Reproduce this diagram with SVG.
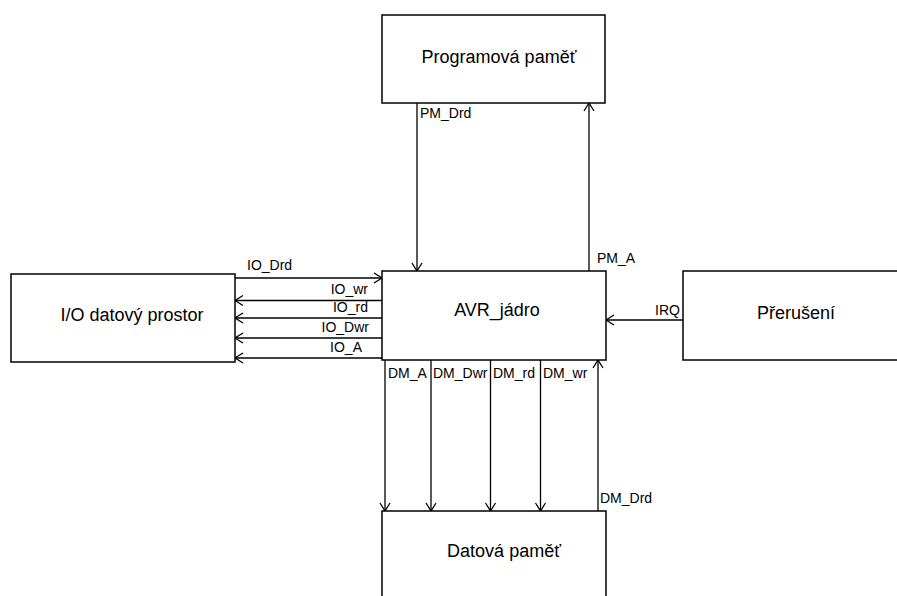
<svg xmlns="http://www.w3.org/2000/svg" width="897" height="596" viewBox="0 0 897 596">
<style>
.box{fill:#fff;stroke:#000;stroke-width:1.5}
.main{font-family:"Liberation Sans",Arial,sans-serif;font-size:18px;fill:#000;text-anchor:middle}
.lbl{font-family:"Liberation Sans",Arial,sans-serif;font-size:14px;fill:#000}
.r{text-anchor:end}
.ln{stroke:#000;stroke-width:1.3;fill:none;marker-end:url(#arr)}
</style>
<defs>
<marker id="arr" markerUnits="userSpaceOnUse" markerWidth="20" markerHeight="20" viewBox="-10 -10 20 20" refX="0" refY="0" orient="auto">
<path d="M-8,-5 L0,0 L-8,5" fill="none" stroke="#000" stroke-width="1.3"/>
</marker>
</defs>
<rect width="897" height="596" fill="#fff"/>
<g id="connectors">
<line class="ln" x1="417" y1="103" x2="417" y2="271"/>
<line class="ln" x1="589" y1="271" x2="589" y2="103"/>
<line class="ln" x1="235" y1="278" x2="382" y2="278"/>
<line class="ln" x1="382" y1="300.5" x2="235" y2="300.5"/>
<line class="ln" x1="382" y1="318" x2="235" y2="318"/>
<line class="ln" x1="382" y1="338" x2="235" y2="338"/>
<line class="ln" x1="382" y1="358" x2="235" y2="358"/>
<line class="ln" x1="683" y1="320" x2="606" y2="320"/>
<line class="ln" x1="385" y1="360" x2="385" y2="511"/>
<line class="ln" x1="431" y1="360" x2="431" y2="511"/>
<line class="ln" x1="490.5" y1="360" x2="490.5" y2="511"/>
<line class="ln" x1="540.5" y1="360" x2="540.5" y2="511"/>
<line class="ln" x1="598" y1="511" x2="598" y2="360"/>
<text class="lbl" x="420" y="118">PM_Drd</text>
<text class="lbl" x="597" y="263">PM_A</text>
<text class="lbl" x="247" y="270">IO_Drd</text>
<text class="lbl r" x="368" y="294">IO_wr</text>
<text class="lbl r" x="368" y="312">IO_rd</text>
<text class="lbl r" x="369" y="332">IO_Dwr</text>
<text class="lbl r" x="362" y="352">IO_A</text>
<text class="lbl r" x="680" y="315">IRQ</text>
<text class="lbl" x="388" y="378">DM_A</text>
<text class="lbl" x="433" y="378">DM_Dwr</text>
<text class="lbl" x="493" y="378">DM_rd</text>
<text class="lbl" x="543" y="378">DM_wr</text>
<text class="lbl" x="600" y="503">DM_Drd</text>
</g>
<g id="programova-pamet">
<rect class="box" x="382" y="15" width="223" height="88"/>
<text class="main" x="499" y="63">Programová paměť</text>
</g>
<g id="avr-jadro">
<rect class="box" x="382" y="271" width="224" height="89"/>
<text class="main" x="497" y="316">AVR_jádro</text>
</g>
<g id="io-prostor">
<rect class="box" x="11" y="274" width="224" height="88"/>
<text class="main" x="132" y="321">I/O datový prostor</text>
</g>
<g id="preruseni">
<rect class="box" x="683" y="271" width="224" height="89"/>
<text class="main" x="796" y="319">Přerušení</text>
</g>
<g id="datova-pamet">
<rect class="box" x="382" y="511" width="224" height="90"/>
<text class="main" x="504" y="557">Datová paměť</text>
</g>
</svg>
